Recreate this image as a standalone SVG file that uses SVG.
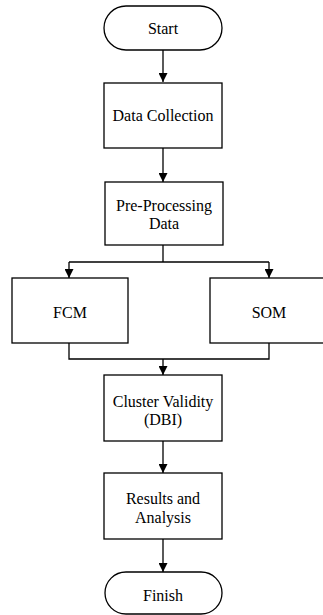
<svg xmlns="http://www.w3.org/2000/svg" width="323" height="615" viewBox="0 0 323 615">
<style>
.n{fill:#fff;stroke:#000;stroke-width:1.3}
.t{font-family:'Liberation Serif','Times New Roman',serif;font-size:16px;fill:#000;text-anchor:middle}
.c{fill:none;stroke:#000;stroke-width:1.3}
</style>
<defs>
<marker id="a" viewBox="0 0 10 10" refX="10" refY="5" markerWidth="9" markerHeight="9" markerUnits="userSpaceOnUse" orient="auto">
<path d="M0,0L10,5L0,10z" fill="#000"/>
</marker>
</defs>
<rect width="323" height="615" fill="#fff"/>
<g id="connectors">
<path class="c" d="M163,50V82" marker-end="url(#a)"/>
<path class="c" d="M163,148V182" marker-end="url(#a)"/>
<path class="c" d="M163,245V262"/>
<path class="c" d="M69,262H269"/>
<path class="c" d="M69,262V278" marker-end="url(#a)"/>
<path class="c" d="M269,262V278" marker-end="url(#a)"/>
<path class="c" d="M69,343V359H269V343"/>
<path class="c" d="M163,359V375" marker-end="url(#a)"/>
<path class="c" d="M163,441V473" marker-end="url(#a)"/>
<path class="c" d="M163,539V572" marker-end="url(#a)"/>
</g>
<g id="start"><rect class="n" x="104" y="6" width="118" height="44" rx="22"/><text class="t" x="163" y="33.5">Start</text></g>
<g id="data-collection"><rect class="n" x="104" y="83" width="118" height="65"/><text class="t" x="163" y="120.5">Data Collection</text></g>
<g id="pre-processing"><rect class="n" x="105" y="182" width="118" height="63"/><text class="t" x="164" y="210.5">Pre-Processing</text><text class="t" x="164" y="228.5">Data</text></g>
<g id="fcm"><rect class="n" x="12" y="278" width="116" height="65"/><text class="t" x="70" y="317.5">FCM</text></g>
<g id="som"><rect class="n" x="210" y="278" width="118" height="65"/><text class="t" x="269" y="317.5">SOM</text></g>
<g id="cluster-validity"><rect class="n" x="104" y="375" width="118" height="66"/><text class="t" x="163" y="406.5">Cluster Validity</text><text class="t" x="163" y="424.5">(DBI)</text></g>
<g id="results"><rect class="n" x="104" y="473" width="118" height="66"/><text class="t" x="163" y="503.5">Results and</text><text class="t" x="163" y="522.5">Analysis</text></g>
<g id="finish"><rect class="n" x="105" y="572" width="117" height="42" rx="21"/><text class="t" x="163" y="600.5">Finish</text></g>
</svg>
